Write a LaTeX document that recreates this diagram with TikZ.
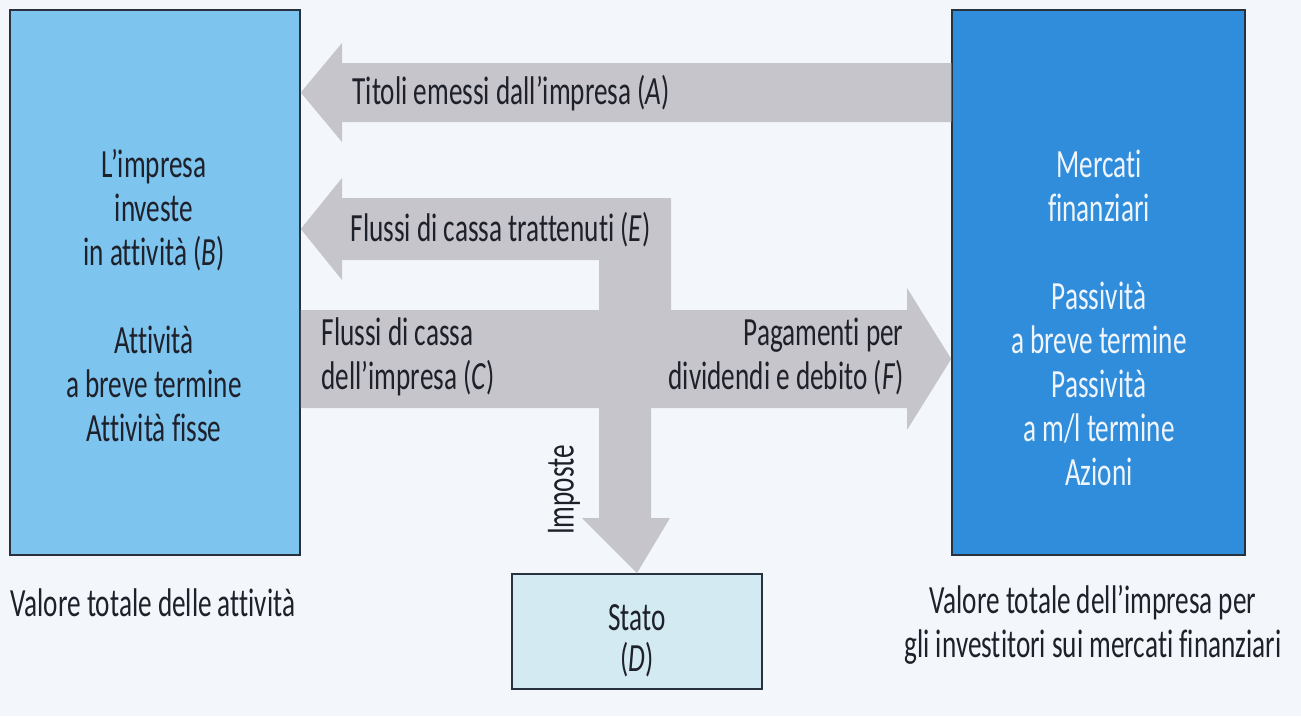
\documentclass[tikz,border=0pt]{standalone}
\usepackage{fontspec}
\setmainfont[FakeStretch=0.68, Ligatures=NoCommon]{Carlito}
\definecolor{sfondo}{RGB}{243,247,251}
\definecolor{grigiofreccia}{RGB}{197,197,203}
\definecolor{azzurro}{RGB}{125,196,238}
\definecolor{blumercati}{RGB}{47,141,219}
\definecolor{celestestato}{RGB}{212,234,243}
\definecolor{bordo}{RGB}{40,50,62}
\definecolor{testoscuro}{RGB}{30,32,42}
\definecolor{testochiaro}{RGB}{240,245,252}

\begin{document}
\begin{tikzpicture}[x=1pt, y=-1pt,
    font=\fontsize{40}{44}\selectfont, text=testoscuro,
    freccia/.style={fill=grigiofreccia},
    scatola/.style={draw=bordo, line width=1.5pt, inner sep=0pt}]
    \useasboundingbox (0,0) rectangle (1301,716);
    \fill[sfondo] (0,0) rectangle (1301,716);

    %Boxes
    \node[scatola, fill=azzurro, minimum width=290pt, minimum height=545pt] (impresa) at (155,282.5) {};
    \node[scatola, fill=blumercati, minimum width=293pt, minimum height=545pt] (mercati) at (1098.5,282.5) {};
    \node[scatola, fill=celestestato, minimum width=250pt, minimum height=115pt, anchor=north] (stato) at (637,573) {};

    %Arrow A, securities issued
    \fill[freccia] (mercati.west |- 0,63) -- (342,63) -- (342,43) -- (impresa.east |- 0,92.5)
        -- (342,142) -- (342,122) -- (mercati.west |- 0,122) -- cycle;

    %Arrow E, retained cash flows (bent up from C)
    \fill[freccia] (671,310) -- (671,198) -- (342,198) -- (342,178) -- (impresa.east |- 0,229)
        -- (342,280) -- (342,260) -- (599,260) -- (599,310) -- cycle;

    %Arrow C to F
    \fill[freccia] (impresa.east |- 0,310) -- (907,310) -- (907,288) -- (mercati.west |- 0,359)
        -- (907,430) -- (907,408) -- (impresa.east |- 0,408) -- cycle;

    %Taxes down to the state
    \fill[freccia] (599,406) -- (599,518) -- (582,518) -- (stato.north)
        -- (670,518) -- (651,518) -- (651,406) -- cycle;

    %Texts in the boxes
    \node[align=center] (impresatesto) at (154,295.5)
        {L’impresa\\investe\\in attività (\textit{B})\\[44pt]Attività\\a breve termine\\Attività fisse};
    \node[align=center, text=testochiaro] (mercatitesto) at (1099,317.5)
        {Mercati\\finanziari\\[44pt]Passività\\a breve termine\\Passività\\a m/l termine\\Azioni};
    \node[align=center, font=\fontsize{40}{41}\selectfont] (statotesto) at (637,641)
        {Stato\\(\textit{D})};

    %Arrow labels
    \node[anchor=west] (titoli) at (349,93) {Titoli emessi dall’impresa (\textit{A})};
    \node[anchor=west] (trattenuti) at (347,230) {Flussi di cassa trattenuti (\textit{E})};
    \node[anchor=west, align=left] (flussi) at (318,356.5) {Flussi di cassa\\dell’impresa (\textit{C})};
    \node[anchor=east, align=right] (pagamenti) at (907,356.5) {Pagamenti per\\dividendi e debito (\textit{F})};
    \node[rotate=90] (imposte) at (564,490) {Imposte};

    %Captions below
    \node (valoreattivita) at (153,603) {Valore totale delle attività};
    \node[align=center] (valoreimpresa) at (1093,625)
        {Valore totale dell’impresa per\\gli investitori sui mercati finanziari};
\end{tikzpicture}
\end{document}
